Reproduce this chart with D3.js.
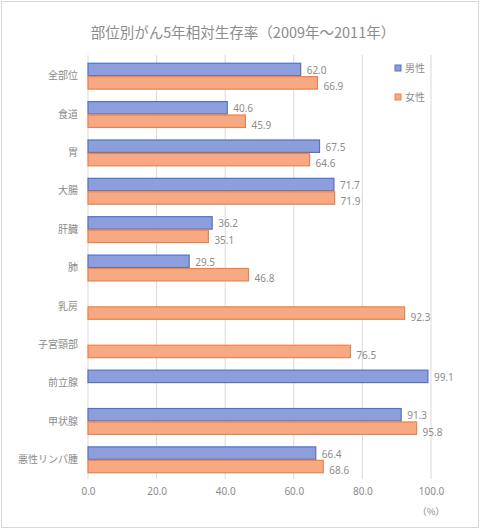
<!DOCTYPE html>
<html>
<head>
<meta charset="utf-8">
<script src="https://cdn.jsdelivr.net/npm/d3@7"></script>
<style>
  body { margin: 0; background: #fff; }
  text { font-family: "Noto Sans CJK JP", "Noto Sans", sans-serif; }
</style>
</head>
<body>
<div id="chart"></div>
<script>
// Categories and values (null = not applicable)
const sites = ["全部位", "食道", "胃", "大腸", "肝臓", "肺", "乳房", "子宮頸部", "前立腺", "甲状腺", "悪性リンパ腫"];
const male = [62.0, 40.6, 67.5, 71.7, 36.2, 29.5, null, null, 99.1, 91.3, 66.4];
const female = [66.9, 45.9, 64.6, 71.9, 35.1, 46.8, 92.3, 76.5, null, 95.8, 68.6];
const seriesNames = ["男性", "女性"];
const xTicks = [0, 20, 40, 60, 80, 100];

const W = 480, H = 529;
const colors = { "男性": { fill: "#8c9fdc", stroke: "#5571c4" }, "女性": { fill: "#f6a982", stroke: "#ee8048" } };

const svg = d3.select("#chart").append("svg")
    .attr("width", W)
    .attr("height", H);

// outer frame
svg.append("rect")
    .attr("x", 1.5).attr("y", 1.5)
    .attr("width", W - 3).attr("height", H - 3)
    .attr("fill", "#fff")
    .attr("stroke", "#d9d9d9");

// title
svg.append("text")
    .attr("x", 243).attr("y", 38)
    .attr("text-anchor", "middle")
    .style("font-size", "14.5px")
    .style("fill", "#8c8c8c")
    .text("部位別がん5年相対生存率（2009年～2011年）");

const x = d3.scaleLinear().domain([0, 100]).range([88, 431]);
const y = d3.scaleBand().domain(sites).range([57, 479]).paddingInner(0.3).paddingOuter(0.15);
const y1 = d3.scaleBand().domain(seriesNames).range([0, y.bandwidth()]);

// gridlines
svg.append("g")
    .selectAll("line")
    .data(xTicks)
    .join("line")
    .attr("x1", d => x(d)).attr("x2", d => x(d))
    .attr("y1", 55).attr("y2", 479)
    .attr("stroke", "#d9d9d9")
    .attr("stroke-width", 1);

// x axis labels
const xAxis = d3.axisBottom(x).tickValues(xTicks).tickFormat(d3.format(".1f")).tickSize(0).tickPadding(9);
const gx = svg.append("g")
    .attr("transform", "translate(0,479)")
    .call(xAxis);
gx.select(".domain").remove();
gx.selectAll("text")
    .style("font-size", "10px")
    .style("fill", "#8c8c8c")
    .style("font-family", "\"Noto Sans\", sans-serif");

svg.append("text")
    .attr("x", 431).attr("y", 515)
    .attr("text-anchor", "middle")
    .style("font-size", "9.5px")
    .style("fill", "#8c8c8c")
    .text("（%）");

// category labels
const yAxis = d3.axisLeft(y).tickSize(0).tickPadding(10);
const gy = svg.append("g")
    .attr("transform", "translate(88,0)")
    .call(yAxis);
gy.select(".domain").remove();
gy.selectAll("text")
    .style("font-size", "10px")
    .style("fill", "#8c8c8c");

// rows
const rows = sites.map((s, i) => ({ site: s, vals: [
    { key: "男性", value: male[i] },
    { key: "女性", value: female[i] }
].filter(d => d.value !== null) }));

const groups = svg.append("g")
    .selectAll("g")
    .data(rows)
    .join("g")
    .attr("transform", d => `translate(0,${y(d.site)})`);

groups.selectAll("rect")
    .data(d => d.vals)
    .join("rect")
    .attr("x", x(0))
    .attr("y", d => y1(d.key) + 0.5)
    .attr("width", d => x(d.value) - x(0))
    .attr("height", y1.bandwidth() - 1)
    .attr("fill", d => colors[d.key].fill)
    .attr("stroke", d => colors[d.key].stroke)
    .attr("stroke-width", 1.2);

groups.selectAll("text.val")
    .data(d => d.vals)
    .join("text")
    .attr("class", "val")
    .attr("x", d => x(d.value) + 6)
    .attr("y", d => y1(d.key) + y1.bandwidth() / 2 + (d.key === "女性" ? 4 : 1))
    .attr("dy", "0.35em")
    .style("font-size", "10px")
    .style("fill", "#8c8c8c")
    .style("font-family", "\"Noto Sans\", sans-serif")
    .text(d => d3.format(".1f")(d.value));

// legend
const legend = svg.append("g")
    .selectAll("g")
    .data(seriesNames)
    .join("g")
    .attr("transform", (d, i) => `translate(395,${68 + i * 29})`);

legend.append("rect")
    .attr("x", 0).attr("y", -3)
    .attr("width", 6).attr("height", 6)
    .attr("fill", d => colors[d].fill)
    .attr("stroke", d => colors[d].stroke);

legend.append("text")
    .attr("x", 10).attr("y", 0)
    .attr("dy", "0.35em")
    .style("font-size", "10px")
    .style("fill", "#8c8c8c")
    .text(d => d);
</script>
</body>
</html>
